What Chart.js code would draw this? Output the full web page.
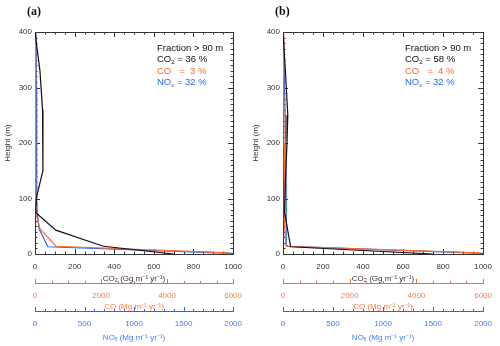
<!DOCTYPE html>
<html>
<head>
<meta charset="utf-8">
<script src="https://cdn.jsdelivr.net/npm/chart.js@4.4.1/dist/chart.umd.min.js"></script>
<style>
  body { margin: 0; background: #fff; }
  #wrap { position: relative; width: 500px; height: 346px; overflow: hidden; font-family: 'Liberation Sans', Arial, sans-serif; }
  canvas { position: absolute; top: 0; }
  .tag { position: absolute; font-family: 'Liberation Serif', serif; font-weight: bold; font-size: 12px; line-height: 12px; color: #111; }
  .note { position: absolute; font-size: 9.5px; line-height: 12px; white-space: pre; color: #111; }
  .note sub { font-size: 6px; line-height: 0; vertical-align: -2px; }
</style>
</head>
<body>
<div id="wrap">
  <canvas id="chartA" width="250" height="346" style="left:0"></canvas>
  <canvas id="chartB" width="252" height="346" style="left:248px"></canvas>

  <div class="tag" style="left:27px; top:5px">(a)</div>
  <div class="note" style="left:157px; top:42px">Fraction &gt; 90 m</div>
  <div class="note" style="left:157px; top:53px">CO<sub>2</sub> = 36 %</div>
  <div class="note" style="left:157px; top:65px; color:#fb6a2c">CO   =  3 %</div>
  <div class="note" style="left:157px; top:76px; color:#2464ff">NO<sub>x</sub> = 32 %</div>

  <div class="tag" style="left:275px; top:5px">(b)</div>
  <div class="note" style="left:405px; top:42px">Fraction &gt; 90 m</div>
  <div class="note" style="left:405px; top:53px">CO<sub>2</sub> = 58 %</div>
  <div class="note" style="left:405px; top:65px; color:#fb6a2c">CO   =  4 %</div>
  <div class="note" style="left:405px; top:76px; color:#2464ff">NO<sub>x</sub> = 32 %</div>
</div>
<script>
// axis ranges / tick labels
const heightTicks = [0, 100, 200, 300, 400];
const co2TickLabels = [0, 200, 400, 600, 800, 1000];
const coTickLabels = [0, 2000, 4000, 6000];
const noxTickLabels = [0, 500, 1000, 1500, 2000];

// panel (a)
const co2HeightA = [400, 330, 260, 150, 103, 75, 43, 14, 0];
const co2ValueA  = [0, 25, 38, 40, 8, 3, 105, 345, 700];
const coHeightA  = [400, 150, 100, 75, 45, 14, 2];
const coValueA   = [8, 8, 20, 30, 150, 640, 5900];
const noxHeightA = [400, 300, 200, 100, 75, 45, 13, 1];
const noxValueA  = [10, 14, 16, 18, 23, 42, 130, 2000];

// panel (b)
const co2HeightB = [400, 330, 250, 200, 130, 75, 13, 0];
const co2ValueB  = [0, 12, 24, 20, 12, 8, 38, 750];
const coHeightB  = [400, 300, 200, 100, 50, 14, 2];
const coValueB   = [10, 20, 30, 40, 50, 90, 5900];
const noxHeightB = [400, 300, 200, 100, 16, 14, 1];
const noxValueB  = [5, 15, 28, 32, 32, 55, 2000];

const BLACK = '#111', ORANGE = '#fb6a2c', BLUE = '#2464ff';

Chart.defaults.font.family = "'Liberation Sans', Arial, sans-serif";
Chart.defaults.font.size = 8;

const pts = (xs, ys) => xs.map((v, i) => ({ x: v, y: ys[i] }));
const last = arr => arr[arr.length - 1];
const plain = v => String(v);

// frame with inside ticks + upward ticks on the CO / NOx axes
const frameTicks = {
  id: 'frameTicks',
  beforeDatasetsDraw(chart) {
    const { ctx, chartArea: a, scales: s } = chart;
    const seg = (x1, y1, x2, y2) => { ctx.beginPath(); ctx.moveTo(x1, y1); ctx.lineTo(x2, y2); ctx.stroke(); };
    ctx.save();
    ctx.lineWidth = 1;
    ctx.strokeStyle = '#333';
    ctx.strokeRect(Math.round(a.left) + 0.5, Math.round(a.top) + 0.5, Math.round(a.right - a.left), Math.round(a.bottom - a.top));
    for (let v = 0; v <= last(co2TickLabels); v += 50) {
      const px = Math.round(s.x.getPixelForValue(v)) + 0.5;
      const len = v % 200 === 0 ? 5 : 2.5;
      seg(px, a.bottom, px, a.bottom - len);
      seg(px, a.top, px, a.top + len);
    }
    for (let v = 0; v <= last(heightTicks); v += 10) {
      const py = Math.round(s.y.getPixelForValue(v)) + 0.5;
      const len = v % 100 === 0 ? 5 : 2.5;
      seg(a.left, py, a.left + len, py);
      seg(a.right, py, a.right - len, py);
    }
    ctx.strokeStyle = ORANGE;
    let top = Math.round(s.xCO.top) + 0.5;
    for (let v = 0; v <= last(coTickLabels); v += 500) {
      const px = Math.round(s.xCO.getPixelForValue(v)) + 0.5;
      seg(px, top, px, top - (v % 2000 === 0 ? 4.5 : 2.5));
    }
    ctx.strokeStyle = BLUE;
    top = Math.round(s.xNOx.top) + 0.5;
    for (let v = 0; v <= last(noxTickLabels); v += 100) {
      const px = Math.round(s.xNOx.getPixelForValue(v)) + 0.5;
      seg(px, top, px, top - (v % 500 === 0 ? 4.5 : 2.5));
    }
    ctx.restore();
  }
};

function bottomAxis(max, step, weight, height, color, labelColor, title, titlePad) {
  return {
    type: 'linear', position: 'bottom', weight: weight,
    min: 0, max: max,
    grid: { display: false, drawTicks: false },
    border: { display: color !== null, color: color || '#333', width: 1 },
    ticks: { stepSize: step, padding: 8, color: labelColor, maxRotation: 0, autoSkip: false, font: { size: 8 }, callback: plain },
    title: { display: true, text: title, color: labelColor, font: { size: 8, lineHeight: 1 }, padding: { top: 0, bottom: titlePad } },
    afterFit: sc => { sc.height = height; }
  };
}

function makeChart(id, rightPad, co2v, co2h, cov, coh, noxv, noxh) {
  const line = (label, data, color, axis) => ({
    label, data, xAxisID: axis, yAxisID: 'y',
    borderColor: color, borderWidth: 1.2, pointRadius: 0, fill: false, tension: 0
  });
  return new Chart(document.getElementById(id), {
    type: 'line',
    data: {
      datasets: [
        line('CO2', pts(co2v, co2h), BLACK, 'x'),
        line('CO', pts(cov, coh), ORANGE, 'xCO'),
        line('NOx', pts(noxv, noxh), BLUE, 'xNOx')
      ]
    },
    options: {
      responsive: false, animation: false,
      layout: { padding: { top: 32, right: rightPad, left: 0, bottom: 0 } },
      plugins: { legend: { display: false }, tooltip: { enabled: false } },
      scales: {
        x: bottomAxis(last(co2TickLabels), 200, 1, 29, null, '#333', 'CO₂ (Gg m⁻¹ yr⁻¹)', 0),
        xCO: bottomAxis(last(coTickLabels), 2000, 2, 28, ORANGE, '#fb7c48', 'CO (Mg m⁻¹ yr⁻¹)', 0),
        xNOx: bottomAxis(last(noxTickLabels), 500, 3, 35, BLUE, '#3f7dff', 'NOₓ (Mg m⁻¹ yr⁻¹)', 4.5),
        y: {
          type: 'linear', position: 'left',
          min: 0, max: last(heightTicks),
          grid: { display: false, drawTicks: false },
          border: { display: false },
          ticks: { stepSize: 100, padding: 3, color: '#333', font: { size: 8 }, callback: plain },
          title: { display: true, text: 'Height (m)', color: '#333', font: { size: 8, lineHeight: 1 }, padding: { top: 3.5, bottom: 0 } },
          afterFit: sc => { sc.width = 35; }
        }
      }
    },
    plugins: [frameTicks]
  });
}

makeChart('chartA', 12, co2ValueA, co2HeightA, coValueA, coHeightA, noxValueA, noxHeightA);
makeChart('chartB', 13, co2ValueB, co2HeightB, coValueB, coHeightB, noxValueB, noxHeightB);
</script>
</body>
</html>
